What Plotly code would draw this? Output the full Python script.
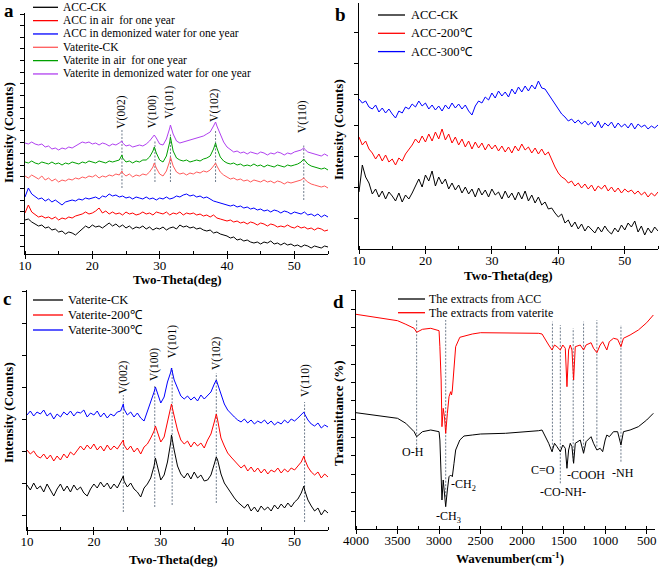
import plotly.graph_objects as go

W, H = 661, 569
SERIF = "Liberation Serif"

# ---------------- data ----------------
# 2-theta grid (deg) for ACC samples, and grid with peak positions for vaterite samples
theta_grid = [10 + 0.5 * i for i in range(91)]
vaterite_peaks = [24.4, 29.2, 31.6, 38.3, 51.4]
theta_v = sorted(theta_grid + vaterite_peaks)

# Panel a (intensity, arbitrary units)
a_acc_ck = [34,35,32,30,28,29,26,27,24,25,22,23,20,22,21,19,22,25,28,26,29,27,28,26,29,31,28,30,27,29,
            26,28,25,27,26,28,25,27,24,26,25,27,24,26,27,25,29,27,28,26,27,25,26,24,23,24,21,22,20,19,
            18,16,17,14,15,13,14,12,11,12,10,12,11,13,10,11,9,11,9,10,8,9,7,9,8,6,8,7,6,8,7]
a_acc_air = [41,49,42,39,37,38,36,37,35,37,34,36,35,37,36,38,39,40,42,40,41,43,46,41,43,40,42,40,41,39,
             42,40,41,39,40,42,40,41,39,42,41,40,42,39,41,40,42,39,41,40,41,39,40,38,39,37,39,36,35,34,
             33,34,32,33,31,32,30,32,31,29,31,30,28,30,29,27,28,27,29,27,26,28,26,27,25,26,24,26,25,23,24]
a_acc_water = [57,66,60,57,55,56,53,55,52,54,51,49,52,53,54,53,55,54,56,55,56,57,55,58,57,60,58,59,57,58,
               56,57,55,57,56,55,57,55,56,54,56,55,57,55,56,58,57,59,60,58,59,57,58,56,57,55,53,52,51,50,
               49,48,49,47,48,46,47,45,46,44,45,43,44,42,44,43,41,43,42,40,42,41,40,42,39,40,38,40,37,39,37]
a_vat_ck = [78,76,79,77,75,78,74,76,73,75,72,74,73,75,74,76,75,77,76,78,77,79,76,78,77,79,78,80,79,
            83,
            81,78,80,77,79,78,80,79,82,87,
            91,
            86,80,78,83,93,
            97,
            88,82,80,81,79,81,80,82,81,83,82,84,88,
            91,
            88,82,79,77,75,76,74,75,73,74,72,74,73,72,74,72,73,71,73,72,70,72,71,72,73,74,
            76,
            75,72,70,69,68,67,68,66]
a_vat_air = [92,91,93,91,90,92,91,90,92,90,91,89,91,90,92,91,90,92,91,93,92,91,93,92,91,93,92,93,94,
             99,
             96,92,93,91,93,92,94,94,97,103,
             107,
             101,94,92,98,112,
             117,
             103,96,94,93,94,92,93,94,93,95,96,98,105,
             111,
             106,97,93,91,90,91,89,90,88,89,88,90,88,89,87,89,88,87,89,88,87,89,88,89,90,92,
             95,
             94,90,88,87,86,85,86,84]
a_vat_water = [111,110,112,110,109,110,107,108,105,106,104,106,105,107,106,108,110,112,111,112,110,111,109,111,110,108,110,109,111,
               113,
               111,108,109,107,108,109,108,110,113,117,
               119,
               116,110,109,115,126,
               129,
               120,113,111,112,113,114,115,116,117,118,120,122,128,
               132,
               128,119,112,107,104,102,103,101,102,100,102,101,100,102,101,99,101,100,102,101,99,101,100,102,103,104,
               106,
               105,102,101,100,99,98,100,98]

# Panel b
b_acc_ck = [57,84,72,66,55,60,52,58,50,57,53,48,56,47,54,50,56,63,70,62,74,68,78,63,72,65,70,60,66,59,
            64,56,62,55,60,52,61,54,59,52,60,54,57,50,58,51,56,49,57,50,58,48,54,46,52,44,47,40,41,36,
            32,35,26,29,22,27,20,25,18,23,19,16,22,17,23,18,15,21,17,24,19,26,22,28,17,23,14,21,16,22,18]
b_acc_200 = [112,104,108,100,96,90,95,88,94,87,90,84,91,88,95,99,104,110,106,113,107,115,108,117,110,120,109,115,106,112,
             104,110,102,108,100,107,101,106,99,105,100,104,98,103,97,102,96,103,98,105,99,102,96,101,95,100,94,97,89,82,
             76,72,70,66,68,63,66,61,65,60,64,58,63,60,64,58,62,57,61,56,60,57,59,55,58,54,57,52,56,53,57]
b_acc_300 = [150,146,148,142,140,144,137,141,136,140,135,131,138,136,142,140,145,142,148,143,146,140,144,139,143,138,144,140,146,141,
             145,140,144,138,134,143,148,146,152,149,156,151,158,153,157,152,160,155,162,157,163,158,164,160,168,161,160,155,150,144,
             139,135,132,128,130,126,129,125,128,124,127,122,128,121,126,123,127,121,126,122,125,121,126,120,125,122,124,120,123,121,124]

# Panel c
c_vat_ck = [45,40,47,41,44,38,46,40,34,41,46,39,44,38,45,40,43,37,34,41,46,42,48,43,47,41,46,42,48,
            54,
            49,43,47,41,38,33,42,46,52,64,
            72,
            63,50,55,68,88,
            95,
            80,64,56,52,57,51,58,52,55,49,50,55,66,
            73,
            70,56,47,42,36,32,28,25,22,26,19,23,18,24,20,23,19,25,21,26,22,27,23,28,31,37,
            44,
            40,30,24,19,22,15,20,17]
c_vat_200 = [80,76,79,74,72,76,71,75,69,74,70,76,72,78,75,80,84,80,85,81,86,80,84,79,85,80,84,81,86,
             90,
             85,80,84,78,82,76,83,86,92,99,
             104,
             97,88,93,108,120,
             126,
             114,100,90,86,89,83,88,84,87,82,90,96,108,
             116,
             110,92,84,77,73,69,66,62,65,59,63,58,62,57,61,56,60,58,62,57,61,58,62,60,64,68,
             74,
             71,63,58,55,58,52,56,53]
c_vat_300 = [115,119,114,118,116,120,114,117,111,116,113,118,115,119,114,118,117,120,113,117,115,119,113,117,112,116,114,118,119,
             126,
             121,115,118,113,117,112,109,118,128,138,
             143,
             136,127,133,148,158,
             162,
             150,142,134,131,134,130,133,129,135,131,134,138,146,
             150,
             146,135,126,120,116,113,110,108,111,107,110,106,109,107,110,106,109,105,108,106,110,107,111,109,112,115,
             118,
             116,110,106,104,107,102,105,103]

# Panel d (FTIR)
wavenumber = [4000,3800,3600,3500,3400,3300,3270,3200,3100,3050,3000,2990,2975,2965,2950,2935,2920,2900,2880,2860,
              2850,2840,2820,2800,2750,2700,2600,2500,2200,2000,1800,1760,1720,1680,1640,1610,1580,1540,1510,1480,
              1460,1440,1420,1400,1380,1360,1300,1260,1230,1170,1140,1100,1060,1030,1000,980,950,900,850,810,
              780,700,600,500,420]
d_vaterite = [214.7,212.3,209.7,208.3,204.7,200.7,196.7,199.7,200.7,199.7,198.3,182.3,149,102.3,120.7,112.3,95.7,115.7,132.3,137.3,
              134,139,162.3,182.3,191.7,193,195,196.3,196.3,195.7,195.7,195,189,184,179,184,182.3,179,184,180.7,
              142.3,179,184,179,149,182.3,184,179,184,186.3,180.7,176.3,184,187.3,182.3,179,187.3,190.7,189.7,182.3,
              190.7,194,199,206.3,214]
d_acc = [116.3,114,112.3,110.7,105.7,97.3,92.3,97.3,99,98.3,97.3,89,62.3,29,49,35.7,22.3,39,52.3,54,
         52.3,52.3,65.7,79,89,93,94,95,95.7,96.7,98.3,99,92.3,85.7,77.3,85.7,82.3,77.3,84,80.7,
         60.7,79,85.7,82.3,65.7,85.7,89,75.7,87.3,92.3,85.7,79,80.7,77.3,89,94,92.3,97.3,97.3,84,
         97.3,99,102.3,109,115.7]

# reference (dashed) lines: position, bottom, top
a_ref_pos = [24.4, 29.3, 31.6, 38.3, 51.4]
a_ref_lo = [66, 72, 72, 72, 54]
a_ref_hi = [124, 114, 121, 124, 109]
a_ref_lab = ["V(002)", "V(100)", "V(101)", "V(102)", "V(110)"]
a_lab_x = [24.36, 29.05, 31.5, 38.2, 51.3]
a_lab_y = [142, 142, 152, 149, 137]

c_ref_pos = [24.4, 29.1, 31.7, 38.3, 51.5]
c_ref_lo = [18, 23, 25, 27, 8]
c_ref_hi = [135, 145, 162, 157, 128]
c_lab_x = [24.35, 29.0, 31.7, 38.25, 51.55]
c_lab_y = [153, 165, 188, 177, 150]

d_ref_pos = [3270, 2920, 1635, 1540, 1385, 1260, 1100, 810]
d_ref_lo = [80.7, 32.3, 77.3, 45.7, 67.3, 77.3, 82.3, 67.3]
d_ref_hi = [209, 209, 207.3, 204, 200.7, 207.3, 209, 204]
d_lab = ["O-H", "-CH<sub>3</sub>", "-CH<sub>2</sub>", "C=O", "-CO-NH-", "-COOH", "-NH"]
d_lab_x = [3313, 2892, 2711, 1743, 1502, 1229, 780]
d_lab_y = [77, 12, 44, 59, 37.3, 54, 56.3]

legend_a = ["ACC-CK", "ACC in air  for one year", "ACC in demonized water for one year",
            "Vaterite-CK", "Vaterite in air  for one year", "Vaterite in demonized water for one year"]
legend_b = ["ACC-CK", "ACC-200\u2103", "ACC-300\u2103"]
legend_c = ["Vaterite-CK", "Vaterite-200\u2103", "Vaterite-300\u2103"]
legend_d = ["The extracts from ACC", "The extracts from vaterite"]

colors_a = ["#000000", "#ff0000", "#0000ff", "#ff5a5a", "#00a000", "#b040f0"]
colors_3 = ["#000000", "#ff0000", "#0000ff"]

# ---------------- figure ----------------
fig = go.Figure()

def px2x(x):
    return x / W

def px2y(y):
    return 1 - y / H

REF_STYLE = dict(color="#6f7c8c", width=1, dash="2px,1.5px")

def add_series(xs, ys, color, ax):
    fig.add_trace(go.Scatter(x=xs, y=ys, mode="lines", line=dict(color=color, width=1),
                             xaxis="x" + ax, yaxis="y" + ax, showlegend=False, hoverinfo="skip"))

def add_refs(pos, lo, hi, ax):
    for p, l, h in zip(pos, lo, hi):
        fig.add_trace(go.Scatter(x=[p, p], y=[l, h], mode="lines", line=REF_STYLE,
                                 xaxis="x" + ax, yaxis="y" + ax, showlegend=False, hoverinfo="skip"))

# panel a
for ys, col in zip([a_acc_ck, a_acc_air, a_acc_water], colors_a[:3]):
    add_series(theta_grid, ys, col, "")
add_refs(a_ref_pos, a_ref_lo, a_ref_hi, "")
for ys, col in zip([a_vat_ck, a_vat_air, a_vat_water], colors_a[3:]):
    add_series(theta_v, ys, col, "")

# panel b
for ys, col in zip([b_acc_ck, b_acc_200, b_acc_300], colors_3):
    add_series(theta_grid, ys, col, "2")

# panel c
add_refs(c_ref_pos, c_ref_lo, c_ref_hi, "3")
for ys, col in zip([c_vat_ck, c_vat_200, c_vat_300], colors_3):
    add_series(theta_v, ys, col, "3")

# panel d
add_refs(d_ref_pos, d_ref_lo, d_ref_hi, "4")
add_series(wavenumber, d_acc, "#000000", "4")
add_series(wavenumber, d_vaterite, "#ff0000", "4")

tickfont = dict(family=SERIF, size=13, color="black")

def xaxis(domain, anchor, rng, dtick, minor_dtick):
    return dict(domain=domain, anchor=anchor, range=rng, showline=True, linecolor="black", linewidth=1,
                showgrid=False, zeroline=False, ticks="outside", ticklen=4, tickcolor="black",
                dtick=dtick, tick0=0, tickfont=tickfont, ticklabelstandoff=-5, automargin=False,
                minor=dict(dtick=minor_dtick, ticks="inside", ticklen=3, tickcolor="black", showgrid=False))

def yaxis(domain, anchor, rng, tick0, dtick):
    return dict(domain=domain, anchor=anchor, range=rng, showline=True, linecolor="black", linewidth=1,
                showgrid=False, zeroline=False, ticks="outside", ticklen=4, tickcolor="black",
                tick0=tick0, dtick=dtick, showticklabels=False, automargin=False)

fig.update_layout(
    width=W, height=H, margin=dict(l=0, r=0, t=0, b=0, autoexpand=False),
    paper_bgcolor="white", plot_bgcolor="white", showlegend=False,
    xaxis=xaxis([25 / W, 328 / W], "y", [10, 55], 10, 5),
    yaxis=yaxis([1 - 254 / H, 1 - 13 / H], "x", [0, 241], 7.3, 11.63),
    xaxis2=xaxis([359 / W, 658 / W], "y2", [10, 55], 10, 5),
    yaxis2=yaxis([1 - 249 / H, 1 - 3 / H], "x2", [0, 246], 30.7, 31),
    xaxis3=xaxis([27 / W, 328 / W], "y3", [10, 55], 10, 5),
    yaxis3=yaxis([1 - 530 / H, 1 - 290 / H], "x3", [0, 240], 15, 32),
    xaxis4=xaxis([356 / W, 655 / W], "y4", [4000, 400], 500, 250),
    yaxis4=yaxis([1 - 529 / H, 1 - 290 / H], "x4", [0, 239], 18, 18.35),
)

ann = []
CENTER = dict(xanchor="center", yanchor="middle", showarrow=False)
# vertical reference labels
for t, x, y in zip(a_ref_lab, a_lab_x, a_lab_y):
    ann.append(dict(text=t, x=x, y=y, xref="x", yref="y", textangle=-90,
                    font=dict(family=SERIF, size=11.5, color="black"), **CENTER))
for t, x, y in zip(a_ref_lab, c_lab_x, c_lab_y):
    ann.append(dict(text=t, x=x, y=y, xref="x3", yref="y3", textangle=-90,
                    font=dict(family=SERIF, size=11.5, color="black"), **CENTER))
for t, x, y in zip(d_lab, d_lab_x, d_lab_y):
    ann.append(dict(text=t, x=x, y=y, xref="x4", yref="y4",
                    font=dict(family=SERIF, size=12, color="black"), **CENTER))

# panel letters
for t, x, y in [("a", 9, 11), ("b", 340, 14), ("c", 7, 298), ("d", 338, 301)]:
    ann.append(dict(text="<b>%s</b>" % t, x=px2x(x), y=px2y(y), xref="paper", yref="paper",
                    font=dict(family=SERIF, size=19, color="black"), **CENTER))

# axis titles
title_font = dict(family=SERIF, size=13, color="black")
for t, x, y, ang in [("<b>Two-Theta(deg)</b>", 177, 279, 0), ("<b>Two-Theta(deg)</b>", 508, 275, 0),
                     ("<b>Two-Theta(deg)</b>", 173, 559, 0), ("<b>Wavenumber(cm<sup>-1</sup>)</b>", 510, 558, 0),
                     ("<b>Intensity (Counts)</b>", 8, 133, -90), ("<b>Intensity (Counts)</b>", 338, 130, -90),
                     ("<b>Intensity (Counts)</b>", 8, 413, -90), ("<b>Transmittance (%)</b>", 338, 413, -90)]:
    ann.append(dict(text=t, x=px2x(x), y=px2y(y), xref="paper", yref="paper",
                    textangle=ang, font=title_font, **CENTER))

# manual legends
shapes = []
def legend(labels, colors, x0, x1, xt, y0, dy, size):
    for i, (lab, col) in enumerate(zip(labels, colors)):
        y = y0 + dy * i
        shapes.append(dict(type="line", xref="paper", yref="paper", x0=px2x(x0), x1=px2x(x1),
                           y0=px2y(y), y1=px2y(y), line=dict(color=col, width=1.3)))
        ann.append(dict(text=lab, x=px2x(xt), y=px2y(y), xref="paper", yref="paper", showarrow=False,
                        xanchor="left", yanchor="middle", font=dict(family=SERIF, size=size, color="black")))

legend(legend_a, colors_a, 33, 58, 61, 7.3, 13.33, 11.5)
legend(legend_b, colors_3, 378, 405, 409, 15, 18.3, 12.5)
legend(legend_c, colors_3, 33, 63, 66, 300, 15, 12.5)
legend(legend_d, ["#000000", "#ff0000"], 398, 425, 427, 299, 13.7, 12)

fig.update_layout(annotations=ann, shapes=shapes)
fig.write_html("out.html", config={"displayModeBar": False},
               post_script="document.body.style.margin='0px';")
